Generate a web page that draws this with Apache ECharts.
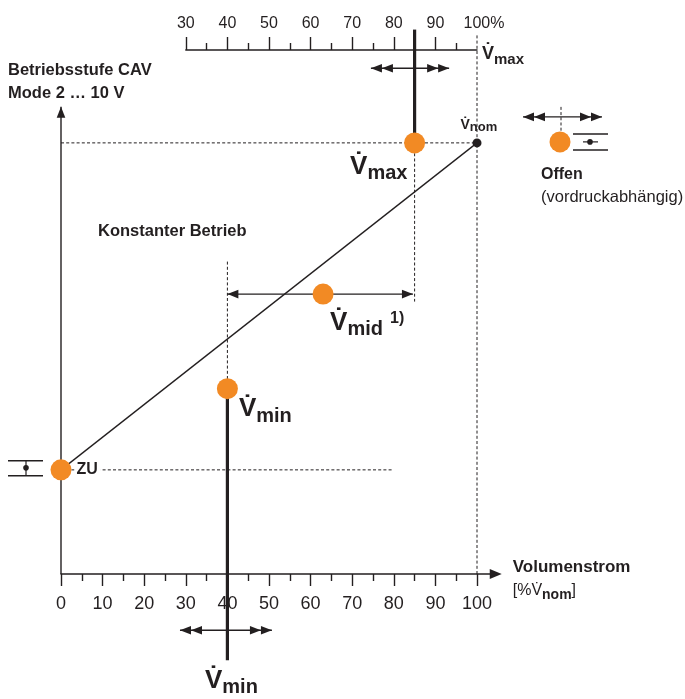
<!DOCTYPE html>
<html>
<head>
<meta charset="utf-8">
<script src="https://cdn.jsdelivr.net/npm/echarts@6/dist/echarts.min.js"></script>
<style>
  html, body { margin: 0; padding: 0; background: #fff; }
  #chart { width: 685px; height: 699px; }
</style>
</head>
<body>
<div id="chart"></div>
<script>
const INK = '#231f20';
const ORANGE = '#f28a24';
const FONT = '"Liberation Sans", Arial, Helvetica, sans-serif';

// Volumenstrom-Skala unten und V̇max-Einstellskala oben, beide in % V̇nom
const flowTicks = [0, 10, 20, 30, 40, 50, 60, 70, 80, 90, 100];
const flowMinorTicks = [5, 15, 25, 35, 45, 55, 65, 75, 85, 95];
const vmaxTicks = [30, 40, 50, 60, 70, 80, 90];
const vmaxLabels = [30, 40, 50, 60, 70, 80, 90, 100];
const vmaxMinorTicks = [35, 45, 55, 65, 75, 85, 95];

// Volumenströme der Betriebsstufen [% V̇nom]
const flowZu = 0, flowMin = 40, flowMid = 63, flowMax = 85, flowNom = 100;
// Signalhöhe der Betriebsstufen (relative Skala der Ordinate)
const levelZu = 25, levelMin = 44.5, levelMid = 67.2, levelMax = 103.5, levelNom = 103.5;

// Kennlinie von ZU bis V̇nom
const characteristic = [[flowZu, levelZu], [flowNom, levelNom]];

// Ausdehnung der Hilfslinien (Ordinatenwerte)
const levelAxisTop = 112.2;
const nomGuideTop = 129.5;
const maxStemTop = 130.7;
const minGuideTop = 75;
const maxGuideBottom = 65.4;
const zuGuideEnd = 80;
const minStemBottom = -20.7;
// Verstellbereiche: [von, bis, Höhe]
const adjustMax = [74.5, 93.3, 121.4];
const adjustMin = [28.6, 50.7, -13.5];

const K = 4.16;      // px per % on the flow axis
const X0 = 61;       // x position of 0 %

// V̇ mit tiefgestelltem Index (Abstand über padding-top des Index)
const bigRich = {
  v:   { fontFamily: FONT, fontSize: 26, fontWeight: 'bold', color: INK, lineHeight: 30, verticalAlign: 'top' },
  s:   { fontFamily: FONT, fontSize: 20, fontWeight: 'bold', color: INK, lineHeight: 30, verticalAlign: 'top', padding: [10, 0, 0, 0] },
  sup: { fontFamily: FONT, fontSize: 16, fontWeight: 'bold', color: INK, lineHeight: 30, verticalAlign: 'top', padding: [1, 0, 0, 7] }
};
const nomRich = {
  v: { fontFamily: FONT, fontSize: 14, fontWeight: 'bold', color: INK, lineHeight: 16, verticalAlign: 'top' },
  s: { fontFamily: FONT, fontSize: 13, fontWeight: 'bold', color: INK, lineHeight: 16, verticalAlign: 'top', padding: [3, 0, 0, 0] }
};
const scaleRich = {
  v: { fontFamily: FONT, fontSize: 18, fontWeight: 'bold', color: INK, lineHeight: 22, verticalAlign: 'top' },
  s: { fontFamily: FONT, fontSize: 15, fontWeight: 'bold', color: INK, lineHeight: 22, verticalAlign: 'top', padding: [7.5, 0, 0, 0] }
};

function guide(points, width, dashed) {
  return {
    type: 'line', data: points, symbol: 'none', silent: true, z: 2, clip: false,
    lineStyle: { color: INK, width: width, type: dashed ? [3, 2.2] : 'solid', cap: 'butt' }
  };
}

function bigLabel(pos, text) {
  return { show: true, position: pos, align: 'left', verticalAlign: 'top', formatter: text, rich: bigRich, color: INK };
}

// Pfeillinie mit ein- oder zweifachen Spitzen an den Enden
function renderArrow(params, api) {
  const p1 = api.coord([api.value(0), api.value(1)]);
  const p2 = api.coord([api.value(2), api.value(3)]);
  const n1 = api.value(4), n2 = api.value(5);
  const dx = p2[0] - p1[0], dy = p2[1] - p1[1];
  const len = Math.hypot(dx, dy);
  const ux = dx / len, uy = dy / len;
  const L = 11, W = 4.3;
  const children = [{
    type: 'line',
    shape: { x1: p1[0], y1: p1[1], x2: p2[0], y2: p2[1] },
    style: { stroke: INK, lineWidth: 1.4 }
  }];
  function head(tx, ty, dirx, diry) {
    const bx = tx - dirx * L, by = ty - diry * L;
    children.push({
      type: 'polygon',
      shape: { points: [[tx, ty], [bx - diry * W, by + dirx * W], [bx + diry * W, by - dirx * W]] },
      style: { fill: INK }
    });
  }
  for (let i = 0; i < n1; i++) head(p1[0] + ux * L * i, p1[1] + uy * L * i, -ux, -uy);
  for (let i = 0; i < n2; i++) head(p2[0] - ux * L * i, p2[1] - uy * L * i, ux, uy);
  return { type: 'group', children: children };
}

const option = {
  animation: false,
  backgroundColor: '#fff',
  textStyle: { fontFamily: FONT, color: INK },
  title: [
    {
      text: 'Betriebsstufe CAV\nMode 2 … 10 V', left: 8, top: 59,
      textStyle: { fontFamily: FONT, fontSize: 16.5, fontWeight: 'bold', color: INK, lineHeight: 23 }, padding: 0
    },
    {
      text: 'Konstanter Betrieb', left: 98, top: 222,
      textStyle: { fontFamily: FONT, fontSize: 16.5, fontWeight: 'bold', color: INK, lineHeight: 18 }, padding: 0
    }
  ],
  grid: [
    { left: X0, top: 20, width: 104.5 * K, height: 554, outerBoundsMode: 'none', containLabel: false },
    { left: X0 + 30 * K, top: 50, width: 70 * K, height: 1, outerBoundsMode: 'none', containLabel: false }
  ],
  xAxis: [
    {
      gridIndex: 0, type: 'value', min: 0, max: 104.5, position: 'bottom',
      axisLine: { show: true, onZero: false, symbol: ['none', 'triangle'], symbolSize: [10, 12],
                  lineStyle: { color: INK, width: 1.5 } },
      axisTick: { show: true, customValues: flowTicks, length: 12, lineStyle: { color: INK, width: 1.4 } },
      axisLabel: { show: true, customValues: flowTicks, fontSize: 18, margin: 21, color: INK, fontFamily: FONT },
      splitLine: { show: false },
      name: '{b|Volumenstrom}\n{r|[%V\u0307}{n|nom}{r|]}',
      nameLocation: 'end', nameGap: 17,
      nameTextStyle: {
        align: 'left', verticalAlign: 'middle', padding: [10, 0, 0, 0],
        rich: {
          b: { fontFamily: FONT, fontSize: 17, fontWeight: 'bold', color: INK, lineHeight: 23 },
          r: { fontFamily: FONT, fontSize: 16, color: INK, lineHeight: 23, verticalAlign: 'bottom', padding: [0, 0, 3, 0] },
          n: { fontFamily: FONT, fontSize: 14, fontWeight: 'bold', color: INK, lineHeight: 18, verticalAlign: 'bottom' }
        }
      }
    },
    {
      gridIndex: 0, type: 'value', min: 0, max: 104.5, position: 'bottom',
      axisLine: { show: false, onZero: false },
      axisTick: { show: true, customValues: flowMinorTicks, length: 7, lineStyle: { color: INK, width: 1.4 } },
      axisLabel: { show: false },
      splitLine: { show: false }
    },
    {
      gridIndex: 1, type: 'value', min: 30, max: 100, position: 'top',
      axisLine: { show: true, onZero: false, lineStyle: { color: INK, width: 1.5 } },
      axisTick: { show: true, customValues: vmaxTicks, length: 13, lineStyle: { color: INK, width: 1.4 } },
      axisLabel: {
        show: true, customValues: vmaxLabels, fontSize: 16, margin: 18, color: INK, fontFamily: FONT,
        formatter: function (v) { return v === 100 ? '{pad|}100%' : String(v); },
        rich: { pad: { width: 14 } }
      },
      splitLine: { show: false },
      name: '{v|V\u0307}{s|max}', nameLocation: 'end', nameGap: 5,
      nameTextStyle: { align: 'left', verticalAlign: 'middle', padding: [12, 0, 0, 0], rich: scaleRich }
    },
    {
      gridIndex: 1, type: 'value', min: 30, max: 100, position: 'top',
      axisLine: { show: false, onZero: false },
      axisTick: { show: true, customValues: vmaxMinorTicks, length: 7, lineStyle: { color: INK, width: 1.4 } },
      axisLabel: { show: false },
      splitLine: { show: false }
    }
  ],
  yAxis: [
    { gridIndex: 0, type: 'value', min: 0, max: 133, show: false, splitLine: { show: false } },
    { gridIndex: 1, type: 'value', min: 0, max: 1, show: false, splitLine: { show: false } }
  ],
  series: [
    // Hilfslinien (gestrichelt)
    guide([[flowZu, levelNom], [flowNom, levelNom]], 1, true),
    guide([[flowZu, levelZu], [zuGuideEnd, levelZu]], 1, true),
    guide([[flowNom, 0], [flowNom, nomGuideTop]], 1, true),
    guide([[flowMin, minGuideTop], [flowMin, levelMin]], 1, true),
    guide([[flowMax, levelMax], [flowMax, maxGuideBottom]], 1, true),
    // Kennlinie
    guide(characteristic, 1.3, false),
    // Einstellachsen V̇max / V̇min
    guide([[flowMax, maxStemTop], [flowMax, levelMax]], 3.2, false),
    guide([[flowMin, levelMin], [flowMin, minStemBottom]], 3.2, false),
    {
      type: 'custom', silent: true, z: 3, clip: false,
      renderItem: renderArrow,
      data: [
        [flowZu, 0, flowZu, levelAxisTop, 0, 1],
        [flowMin, levelMid, flowMax - 0.4, levelMid, 1, 1],
        [adjustMax[0], adjustMax[2], adjustMax[1], adjustMax[2], 2, 2],
        [adjustMin[0], adjustMin[2], adjustMin[1], adjustMin[2], 2, 2]
      ]
    },
    // Nennvolumenstrom
    {
      type: 'scatter', symbol: 'circle', symbolSize: 9, z: 5, silent: true, clip: false,
      itemStyle: { color: INK, opacity: 1 },
      data: [{
        value: [flowNom, levelNom],
        label: { show: true, position: [-12, -20.5], align: 'left', verticalAlign: 'top', formatter: '{v|V\u0307}{s|nom}', rich: nomRich }
      }]
    },
    // Betriebsstufen
    {
      type: 'scatter', symbol: 'circle', symbolSize: 21, z: 6, silent: true, clip: false,
      itemStyle: { color: ORANGE, opacity: 1 },
      data: [
        {
          value: [flowZu, levelZu],
          label: {
            show: true, position: 'right', distance: 3, formatter: 'ZU', color: INK,
            fontFamily: FONT, fontSize: 16, fontWeight: 'bold', backgroundColor: '#fff', padding: [1, 3, 0, 2]
          }
        },
        { value: [flowMin, levelMin], label: bigLabel([22, 18], '{v|V\u0307}{s|min}') },
        { value: [flowMid, levelMid], label: bigLabel([17.5, 26], '{v|V\u0307}{s|mid}{sup|1)}') },
        { value: [flowMax, levelMax], label: bigLabel([-54, 21], '{v|V\u0307}{s|max}') }
      ]
    },
    // Beschriftung der V̇min-Einstellachse unten
    {
      type: 'scatter', symbolSize: 1, z: 4, silent: true, clip: false,
      itemStyle: { color: 'rgba(0,0,0,0)', opacity: 1 },
      data: [{
        value: [flowMin, minStemBottom],
        label: { show: true, position: 'bottom', distance: 7, offset: [4, 0], formatter: '{v|V\u0307}{s|min}', rich: bigRich, color: INK }
      }]
    }
  ]
};

const chart = echarts.init(document.getElementById('chart'));
chart.setOption(option);

// Legendensymbole "Offen" und "ZU", an den Höhen von V̇nom bzw. ZU ausgerichtet
const nomY = chart.convertToPixel({ gridIndex: 0 }, [0, levelNom])[1];
const zuY = chart.convertToPixel({ gridIndex: 0 }, [0, levelZu])[1];

function tri(tx, ty, dir) {
  return { type: 'polygon', shape: { points: [[tx, ty], [tx - dir * 11, ty - 4.3], [tx - dir * 11, ty + 4.3]] }, style: { fill: INK } };
}

const keyArrowY = nomY - 26;
chart.setOption({
  graphic: [
    { type: 'line', shape: { x1: 523, y1: keyArrowY, x2: 602, y2: keyArrowY }, style: { stroke: INK, lineWidth: 1.4 } },
    tri(523, keyArrowY, -1), tri(534, keyArrowY, -1), tri(602, keyArrowY, 1), tri(591, keyArrowY, 1),
    { type: 'line', shape: { x1: 561, y1: nomY - 36, x2: 561, y2: nomY - 12 }, style: { stroke: INK, lineWidth: 1, lineDash: [3, 2.2] } },
    { type: 'circle', shape: { cx: 560, cy: nomY - 1, r: 10.5 }, style: { fill: ORANGE } },
    { type: 'line', shape: { x1: 573, y1: nomY - 9, x2: 608, y2: nomY - 9 }, style: { stroke: INK, lineWidth: 1.5 } },
    { type: 'line', shape: { x1: 573, y1: nomY + 7, x2: 608, y2: nomY + 7 }, style: { stroke: INK, lineWidth: 1.5 } },
    { type: 'line', shape: { x1: 583, y1: nomY - 1, x2: 598, y2: nomY - 1 }, style: { stroke: INK, lineWidth: 1.2 } },
    { type: 'circle', shape: { cx: 590, cy: nomY - 1, r: 2.8 }, style: { fill: INK } },
    { type: 'text', x: 541, y: 175, style: { text: 'Offen', font: 'bold 16px ' + FONT, fill: INK, textVerticalAlign: 'middle' } },
    { type: 'text', x: 541, y: 197, style: { text: '(vordruckabhängig)', font: '16.5px ' + FONT, fill: INK, textVerticalAlign: 'middle' } },

    { type: 'line', shape: { x1: 8, y1: zuY - 9, x2: 43, y2: zuY - 9 }, style: { stroke: INK, lineWidth: 1.5 } },
    { type: 'line', shape: { x1: 8, y1: zuY + 6, x2: 43, y2: zuY + 6 }, style: { stroke: INK, lineWidth: 1.5 } },
    { type: 'line', shape: { x1: 26, y1: zuY - 9, x2: 26, y2: zuY + 6 }, style: { stroke: INK, lineWidth: 1.2 } },
    { type: 'circle', shape: { cx: 26, cy: zuY - 2, r: 2.8 }, style: { fill: INK } }
  ]
});
</script>
</body>
</html>
